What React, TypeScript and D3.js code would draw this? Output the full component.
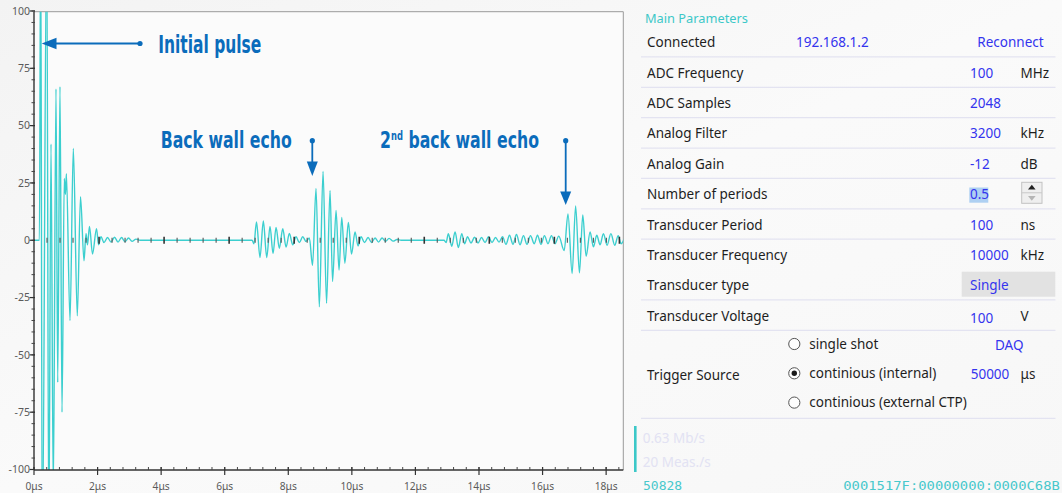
import React from 'react';
import * as d3 from 'd3';

const W = 1062;
const H = 493;

// Waveform extrema (time in µs, amplitude)
const sigTime = [
  0, 0.17, 0.211, 0.261, 0.4, 0.466, 0.535, 0.607, 0.692, 0.746, 0.818, 0.881, 0.953, 0.99, 1.019,
  1.133, 1.237, 1.362, 1.463, 1.573, 1.636, 1.683, 1.746, 1.841, 1.967, 2.03, 2.108, 2.203, 2.313,
  2.423, 2.533, 2.643, 2.753, 2.863, 2.973, 3.084, 3.21, 3.335,
  6.86, 6.92, 7.0, 7.11, 7.215, 7.322, 7.426, 7.52, 7.615, 7.719, 7.826, 7.93, 8.034, 8.14, 8.244,
  8.348, 8.455, 8.559, 8.663,
  8.763, 8.873, 8.977, 9.094, 9.204, 9.314, 9.393, 9.503, 9.597, 9.682, 9.78, 9.89, 9.99, 10.1, 10.195,
  10.29, 10.4, 10.51, 10.62, 10.73, 10.84, 10.95, 11.06, 11.17, 11.3, 11.42, 11.55,
  12.9, 12.965, 13.036, 13.143, 13.247, 13.351, 13.458, 13.546,
  13.64, 13.75, 13.86, 13.97, 14.08, 14.19, 14.3, 14.41, 14.52, 14.63, 14.74,
  14.85, 14.96, 15.07, 15.18, 15.29, 15.4, 15.51, 15.62, 15.74, 15.84, 15.95, 16.06, 16.17, 16.28,
  16.39, 16.51,
  16.68, 16.8, 16.93, 17.04, 17.16, 17.265, 17.37, 17.495, 17.6, 17.705, 17.81, 17.914, 18.03,
  18.15, 18.27, 18.38, 18.47, 18.57,
];
const sigAmp = [
  0, 0, 140, -140, 135, -130, 42, -110, 66, -62, 67, -75, 27, 20, 29,
  -35, 40, -33, 19, -9, 3, -2, 6, -6, 5, -2, 1.5, -1, 1.2,
  -0.8, 1.3, -0.8, 1.2, -0.6, 1, -0.5, 0.5, 0,
  0, -1.5, 8, -7.5, 8.4, -7.5, 6, -5.8, 5.6, -3.5, 5, -3, 3, -2, 1.5,
  -1, 1.5, -0.5, 1,
  -11, 22.6, -29, 30, -27.5, 21.7, -18, 13, -13, 10, -10, 7.8, -6, 3.6, -2.5,
  1.5, -1, 1.2, -1, 1, -0.8, 1, -0.5, 0.8, -0.4, 0.3, 0,
  0, -1, 2.9, -2.6, 3.6, -3.2, 2.9, -1.5,
  1.5, -1.2, 1.3, -1.2, 1.2, -1, 1.5, -1, 1.2, -0.8, 1.5,
  -1.8, 2.2, -1.8, 2.5, -2, 2, -1.8, 2, -1.5, 2.2, -1.8, 2, -1.5, 2,
  -1.5, 1.8,
  -4.5, 11.5, -14.5, 15, -14.2, 11, -7, 3.6, -2.9, 2.2, -2, 2.9, -2.2,
  2.9, -2.2, 2, -1.5, 0.5,
];

const yMajorTicks = [-100, -75, -50, -25, 0, 25, 50, 75, 100];
const xMajorTicks = [0, 2, 4, 6, 8, 10, 12, 14, 16, 18];
const xTickLabels = xMajorTicks.map((t) => `${t}μs`);

const paramLabels = [
  'Connected', 'ADC Frequency', 'ADC Samples', 'Analog Filter', 'Analog Gain',
  'Number of periods', 'Transducer Period', 'Transducer Frequency', 'Transducer type', 'Transducer Voltage',
];
const paramValues = ['192.168.1.2', '100', '2048', '3200', '-12', '0.5', '100', '10000', 'Single', '100'];
const paramUnits = ['Reconnect', 'MHz', '', 'kHz', 'dB', '', 'ns', 'kHz', '', 'V'];
const triggerOptions = ['single shot', 'continious (internal)', 'continious (external CTP)'];
const triggerSelected = 1;
const statusLines = ['0.63 Mb/s', '20 Meas./s'];
const counterText = '50828';
const hexText = '0001517F:00000000:0000C68B';

const PL = 34, PR = 623.3, PT = 11.7, PB = 470;
const UI_FONT = "'Noto Sans', 'Open Sans', sans-serif";
const ANN_FONT = "'DejaVu Sans Condensed', 'DejaVu Sans', sans-serif";
const BLUE = '#0b6cbb';
const VAL = '#3434ee';
const CYAN = '#3ccfcf';

export default function App() {
  const x = d3.scaleLinear().domain([0, 18.54]).range([PL, PR]);
  const xMid = d3.scaleLinear().domain([0, 18.12]).range([PL, PR]);
  const y = d3.scaleLinear().domain([-100, 100]).range([469.5, 11]);

  const pts = sigTime.map((t, i) => [t, sigAmp[i]] as [number, number]);
  const line = d3
    .line<[number, number]>()
    .x((d) => x(d[0]))
    .y((d) => y(d[1]))
    .curve(d3.curveMonotoneX);

  const yMinor = d3.range(-20, 21).map((i) => i * 5);
  const xMinorCount = Math.floor(18.54 / 0.4);
  const xMinor = d3.range(0, xMinorCount + 1).map((i) => i * 0.4);
  const midMinor = d3.range(1, Math.floor(18.12 / 0.4) + 1).map((i) => i * 0.4);

  const rowC = (i: number) => 42.6 + 30.38 * i;
  const seps = [0, 1, 2, 3, 4, 5, 6, 8, 9].map((i) => rowC(i) + 14.3);

  return (
    <svg
      width={W}
      height={H}
      style={{ position: 'absolute', left: 0, top: 0, display: 'block' }}
      xmlns="http://www.w3.org/2000/svg"
    >
      <defs>
        <clipPath id="plotClip">
          <rect x={PL} y={PT} width={PR - PL} height={PB - PT} />
        </clipPath>
        <linearGradient id="bg" x1="0" y1="0" x2="1" y2="1">
          <stop offset="0" stopColor="#f3f3f3" />
          <stop offset="0.5" stopColor="#fafafa" />
          <stop offset="1" stopColor="#f7f7f7" />
        </linearGradient>
      </defs>
      <rect x={0} y={0} width={W} height={H} fill="url(#bg)" />
      <rect x={PL} y={PT} width={PR - PL} height={PB - PT} fill="#fbfbfb" />

      {/* frame */}
      <line x1={PL} x2={PR} y1={PT} y2={PT} stroke="#9a9a9a" strokeWidth={1} />
      <line x1={PR} x2={PR} y1={PT} y2={PB} stroke="#9a9a9a" strokeWidth={1} />

      {/* signal */}
      <g clipPath="url(#plotClip)">
        <path d={line(pts) || ''} fill="none" stroke={CYAN} strokeWidth={1.4} strokeLinejoin="round" />
      </g>

      {/* zero-line ticks */}
      <g>
        {midMinor.map((t, i) => {
          const major = Math.abs(t / 2 - Math.round(t / 2)) < 1e-6;
          return (
            <line
              key={'m' + i}
              x1={xMid(t)}
              x2={xMid(t)}
              y1={y(0) - (major ? 3.5 : 2.5)}
              y2={y(0) + (major ? 3.5 : 2.5)}
              stroke={major ? '#333' : '#555'}
              strokeWidth={major ? 1.6 : 1.1}
            />
          );
        })}
      </g>

      {/* left axis */}
      <line x1={PL} x2={PL} y1={PT} y2={PB} stroke="#333" strokeWidth={1.4} />
      {yMinor.map((v) => (
        <line key={'ym' + v} x1={PL - 2.5} x2={PL + 1} y1={y(v)} y2={y(v)} stroke="#444" strokeWidth={1} />
      ))}
      {yMajorTicks.map((v) => (
        <g key={'y' + v}>
          <line x1={PL - 4.5} x2={PL + 1} y1={y(v)} y2={y(v)} stroke="#333" strokeWidth={1.2} />
          <text
            x={PL - 4}
            y={y(v)}
            dy="0.35em"
            textAnchor="end"
            fontFamily={UI_FONT}
            fontSize={10.5}
            fill="#5a5a5a"
          >
            {v}
          </text>
        </g>
      ))}

      {/* bottom axis */}
      <line x1={PL} x2={PR} y1={PB} y2={PB} stroke="#333" strokeWidth={1.4} />
      {xMinor.map((t, i) => (
        <line key={'xm' + i} x1={x(t)} x2={x(t)} y1={PB - 3} y2={PB} stroke="#444" strokeWidth={1} />
      ))}
      {xMajorTicks.map((t, i) => (
        <g key={'x' + t}>
          <line x1={x(t)} x2={x(t)} y1={PB - 3} y2={PB + 5} stroke="#333" strokeWidth={1.2} />
          <text
            x={x(t)}
            y={486.8}
            dy="0.35em"
            textAnchor="middle"
            fontFamily={UI_FONT}
            fontSize={10.2}
            fill="#5a5a5a"
          >
            {xTickLabels[i]}
          </text>
        </g>
      ))}

      {/* annotations */}
      <g fill={BLUE} stroke="none">
        <text x={158.3} y={53.3} fontFamily={ANN_FONT} fontWeight="bold" fontSize={24} textLength={103} lengthAdjust="spacingAndGlyphs">
          Initial pulse
        </text>
        <text x={160.7} y={148.3} fontFamily={ANN_FONT} fontWeight="bold" fontSize={23.5} textLength={131} lengthAdjust="spacingAndGlyphs">
          Back wall echo
        </text>
        <text x={380} y={148.3} fontFamily={ANN_FONT} fontWeight="bold" fontSize={23.5} textLength={159} lengthAdjust="spacingAndGlyphs">
          <tspan>2</tspan>
          <tspan fontSize={12.5} dy={-8}>nd</tspan>
          <tspan dy={8}> back wall echo</tspan>
        </text>
      </g>
      <g stroke={BLUE} fill={BLUE}>
        <line x1={140} x2={54} y1={43.5} y2={43.5} strokeWidth={1.8} />
        <circle cx={140} cy={43.5} r={2.6} stroke="none" />
        <path d="M41.7,43.5 L56.5,37.8 L56.5,49.2 Z" stroke="none" />

        <line x1={312.3} x2={312.3} y1={140.7} y2={163} strokeWidth={1.8} />
        <circle cx={312.3} cy={140.7} r={2.6} stroke="none" />
        <path d="M312.3,176 L306.8,161.5 L317.8,161.5 Z" stroke="none" />

        <line x1={565.7} x2={565.7} y1={140.7} y2={193} strokeWidth={1.8} />
        <circle cx={565.7} cy={140.7} r={2.6} stroke="none" />
        <path d="M565.7,205 L560.2,191.5 L571.2,191.5 Z" stroke="none" />
      </g>

      {/* right panel */}
      <text x={645} y={18.5} dy="0.35em" fontFamily={UI_FONT} fontSize={12.8} fill="#3cc8c8">
        Main Parameters
      </text>
      {seps.map((s, i) => (
        <line key={'s' + i} x1={641} x2={1055.5} y1={s} y2={s} stroke="#e3e3f1" strokeWidth={1.2} />
      ))}
      <line x1={641} x2={1055.5} y1={418.3} y2={418.3} stroke="#e3e3f1" strokeWidth={1.2} />

      {/* Transducer type box */}
      <rect x={961.7} y={271.7} width={93.6} height={25} fill="#e2e2e2" />
      {/* selection highlight */}
      <rect x={969.3} y={187.5} width={19} height={15.2} fill="#aed0f2" />
      {/* spinner */}
      <g>
        <rect x={1021.7} y={182.3} width={20.3} height={21} fill="#efefef" stroke="#c2c2c2" strokeWidth={1} />
        <line x1={1021.7} x2={1042} y1={192.8} y2={192.8} stroke="#c8c8c8" />
        <path d="M1031.8,184.8 L1035.6,189.6 L1028,189.6 Z" fill="#222" />
        <path d="M1031.8,200.8 L1035.6,196 L1028,196 Z" fill="#b5b5b5" />
      </g>

      {paramLabels.map((lab, i) => {
        const c = rowC(i);
        const isFirst = i === 0;
        return (
          <g key={'p' + i} fontFamily={UI_FONT} fontSize={13.5}>
            <text x={647} y={c} dy="0.35em" fill="#1e1e1e">
              {lab}
            </text>
            <text x={isFirst ? 796 : 970} y={c + (i === 9 ? 2 : 0)} dy="0.35em" fill={VAL}>
              {paramValues[i]}
            </text>
            {paramUnits[i] ? (
              <text x={isFirst ? 977.3 : 1020.5} y={c} dy="0.35em" fill={isFirst ? VAL : '#1e1e1e'}>
                {paramUnits[i]}
              </text>
            ) : null}
          </g>
        );
      })}

      {/* trigger source */}
      <g fontFamily={UI_FONT} fontSize={13.5}>
        <text x={647} y={375} dy="0.35em" fill="#1e1e1e">
          Trigger Source
        </text>
        {triggerOptions.map((o, i) => {
          const cy = 344 + i * 29.3;
          return (
            <g key={'t' + i}>
              <circle cx={794.3} cy={cy} r={5.6} fill="#fdfdfd" stroke="#555" strokeWidth={1} />
              {i === triggerSelected ? <circle cx={794.3} cy={cy} r={2.7} fill="#1a1a1a" /> : null}
              <text x={809.3} y={cy} dy="0.35em" fill="#1e1e1e">
                {o}
              </text>
            </g>
          );
        })}
        <text x={995} y={345.5} dy="0.35em" fill={VAL}>
          DAQ
        </text>
        <text x={970.7} y={374.5} dy="0.35em" fill={VAL}>
          50000
        </text>
        <text x={1020.5} y={374.5} dy="0.35em" fill="#1e1e1e">
          μs
        </text>
      </g>

      {/* status */}
      <rect x={634} y={426} width={2.6} height={46} fill="#3cc8c8" />
      {statusLines.map((s, i) => (
        <text key={'st' + i} x={642.7} y={438.7 + i * 23.3} dy="0.35em" fontFamily={UI_FONT} fontSize={13.5} fill="#e2e2f3">
          {s}
        </text>
      ))}
      <text x={643} y={485} dy="0.35em" fontFamily="'DejaVu Sans Mono', monospace" fontSize={13} fill="#48c8cc">
        {counterText}
      </text>
      <text x={843.3} y={485} dy="0.35em" fontFamily="'DejaVu Sans Mono', monospace" fontSize={13} fill="#48c8cc" textLength={216.5} lengthAdjust="spacingAndGlyphs">
        {hexText}
      </text>
    </svg>
  );
}
